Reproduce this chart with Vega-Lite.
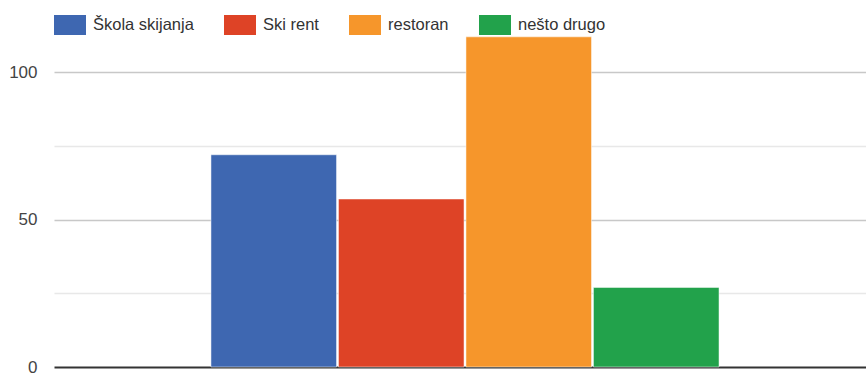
{
  "$schema": "https://vega.github.io/schema/vega-lite/v6.json",
  "autosize": "none",
  "width": 812,
  "height": 339,
  "padding": {"left": 54, "top": 28, "right": 0, "bottom": 9},
  "background": "white",
  "config": {
    "view": {"stroke": null},
    "font": "Liberation Sans"
  },
  "data": {
    "values": [
      {"kategorija": "Škola skijanja", "broj": 72},
      {"kategorija": "Ski rent", "broj": 57},
      {"kategorija": "restoran", "broj": 112},
      {"kategorija": "nešto drugo", "broj": 27}
    ]
  },
  "mark": {"type": "bar", "stroke": "white", "strokeWidth": 0.5},
  "encoding": {
    "x": {
      "field": "kategorija",
      "type": "nominal",
      "sort": null,
      "scale": {
        "domain": ["prazno_l", "Škola skijanja", "Ski rent", "restoran", "nešto drugo", "prazno_d"],
        "paddingInner": 0.015,
        "paddingOuter": 0.192,
        "align": 0.602
      },
      "axis": {
        "title": null,
        "labels": false,
        "ticks": false,
        "grid": false,
        "domain": false
      }
    },
    "y": {
      "field": "broj",
      "type": "quantitative",
      "scale": {"domain": [0, 115], "nice": false},
      "axis": {
        "title": null,
        "values": [0, 25, 50, 75, 100],
        "labelExpr": "datum.value % 50 === 0 ? datum.label : ''",
        "ticks": false,
        "domain": false,
        "labelPadding": 17,
        "labelFontSize": 17,
        "labelColor": "#444444",
        "labelFont": "Liberation Sans",
        "gridColor": {"condition": [{"test": "datum.value === 0", "value": "#333333"}, {"test": "datum.value % 50 === 0", "value": "#c8c8c8"}], "value": "#e8e8e8"},
        "gridWidth": {"condition": {"test": "datum.value === 0", "value": 2}, "value": 1.5}
      }
    },
    "color": {
      "field": "kategorija",
      "type": "nominal",
      "sort": null,
      "scale": {
        "domain": ["Škola skijanja", "Ski rent", "restoran", "nešto drugo"],
        "range": ["#3e67b1", "#de4326", "#f6962b", "#22a24b"]
      },
      "legend": {
        "title": null,
        "orient": "none",
        "direction": "horizontal",
        "legendX": 6,
        "legendY": -13,
        "padding": 0,
        "symbolType": "M-1.6,-1H1.6V1H-1.6Z",
        "symbolSize": 400,
        "symbolStrokeWidth": 0,
        "symbolOpacity": 1,
        "labelOffset": 13,
        "columnPadding": 30,
        "labelFontSize": 16.5,
        "labelFont": "Liberation Sans",
        "labelColor": "#333333",
        "labelLimit": 300
      }
    }
  }
}
